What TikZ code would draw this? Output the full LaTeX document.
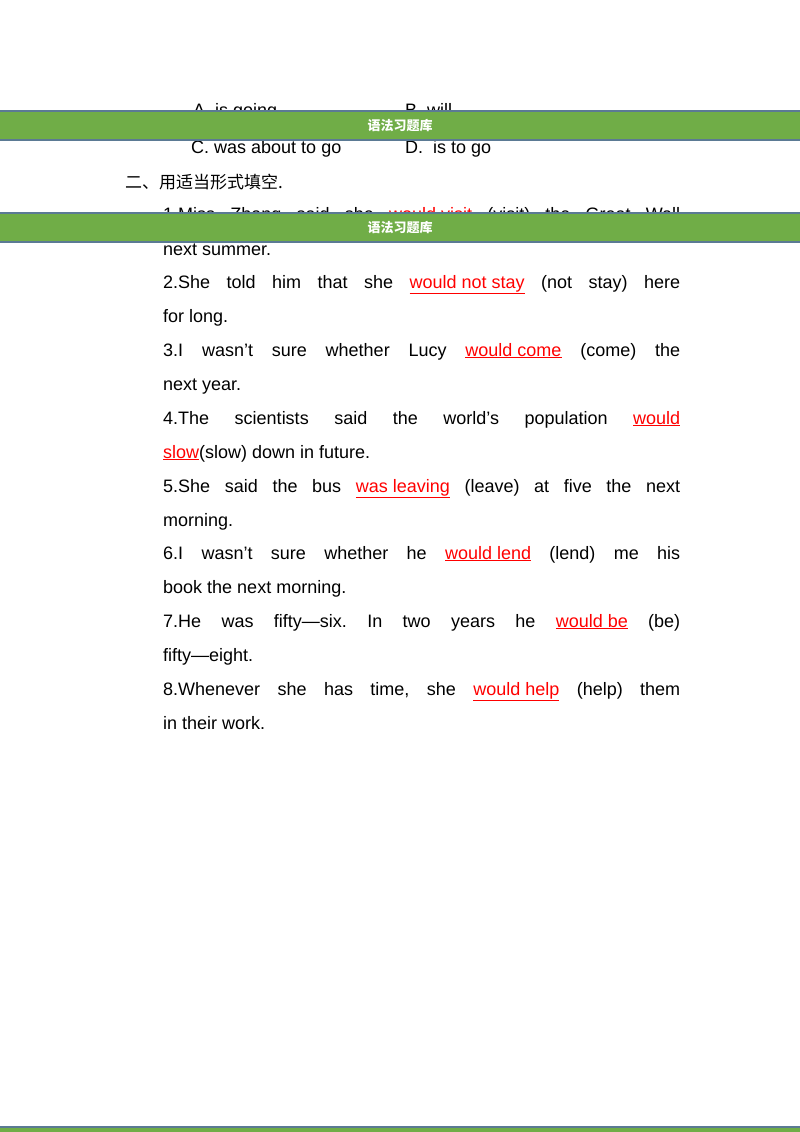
\documentclass[tikz,border=0pt]{standalone}
\usepackage{fontspec}
\setmainfont{Liberation Sans}
\newfontfamily\cjk{Noto Sans CJK SC}
\definecolor{bangreen}{HTML}{70AD47}
\definecolor{banedge}{HTML}{5B7A94}
\frenchspacing
\newcommand{\ans}[1]{\textcolor{red}{\underline{#1}}}
\newcommand{\fl}[1]{\makebox[517pt][s]{#1}}
\begin{document}
\begin{tikzpicture}[x=1pt,y=-1pt,
  txt/.style={anchor=base west,inner sep=0pt,font=\fontsize{18}{20}\selectfont},
  ban/.style={fill=bangreen,draw=banedge,line width=1.2pt},
  bantxt/.style={text=white,font=\cjk\bfseries\fontsize{13}{15}\selectfont}]
\useasboundingbox (0,0) rectangle (800,1132);
\fill[white] (0,0) rectangle (800,1132);
\node[txt] (la) at (193,116) {A. is going};
\node[txt] (lb) at (405,116) {B. will};
\node[txt] (lc) at (191,153) {C. was about to go};
\node[txt] (ld) at (405,153) {D.\ \ is to go};
\node[txt,font=\cjk\fontsize{17}{20}\selectfont] (h2) at (125,188) {二、用适当形式填空.};
\node[txt] (l1) at (163,220) {\fl{1.Miss Zhang said she \ans{would visit} (visit) the Great Wall}};
\node[txt] (l1b) at (163,255) {next summer.};
\node[txt] (l2) at (163,288) {\fl{2.She told him that she \ans{would not stay} (not stay) here}};
\node[txt] (l2b) at (163,322) {for long.};
\node[txt] (l3) at (163,356) {\fl{3.I wasn't sure whether Lucy \ans{would come} (come) the}};
\node[txt] (l3b) at (163,390) {next year.};
\node[txt] (l4) at (163,424) {\fl{4.The scientists said the world’s population \ans{would}}};
\node[txt] (l4b) at (163,458) {\ans{slow}(slow) down in future.};
\node[txt] (l5) at (163,492) {\fl{5.She said the bus \ans{was leaving} (leave) at five the next}};
\node[txt] (l5b) at (163,526) {morning.};
\node[txt] (l6) at (163,559) {\fl{6.I wasn't sure whether he \ans{would lend} (lend) me his}};
\node[txt] (l6b) at (163,593) {book the next morning.};
\node[txt] (l7) at (163,627) {\fl{7.He was fifty—six. In two years he \ans{would be} (be)}};
\node[txt] (l7b) at (163,661) {fifty—eight.};
\node[txt] (l8) at (163,695) {\fl{8.Whenever she has time, she \ans{would help} (help) them}};
\node[txt] (l8b) at (163,729) {in their work.};
\draw[ban] (-2,111) rectangle (802,140);
\node[bantxt] (b1) at (400,126) {语法习题库};
\draw[ban] (-2,213) rectangle (802,242);
\node[bantxt] (b2) at (400,228) {语法习题库};
\draw[ban] (-2,1127) rectangle (802,1136);
\end{tikzpicture}
\end{document}
